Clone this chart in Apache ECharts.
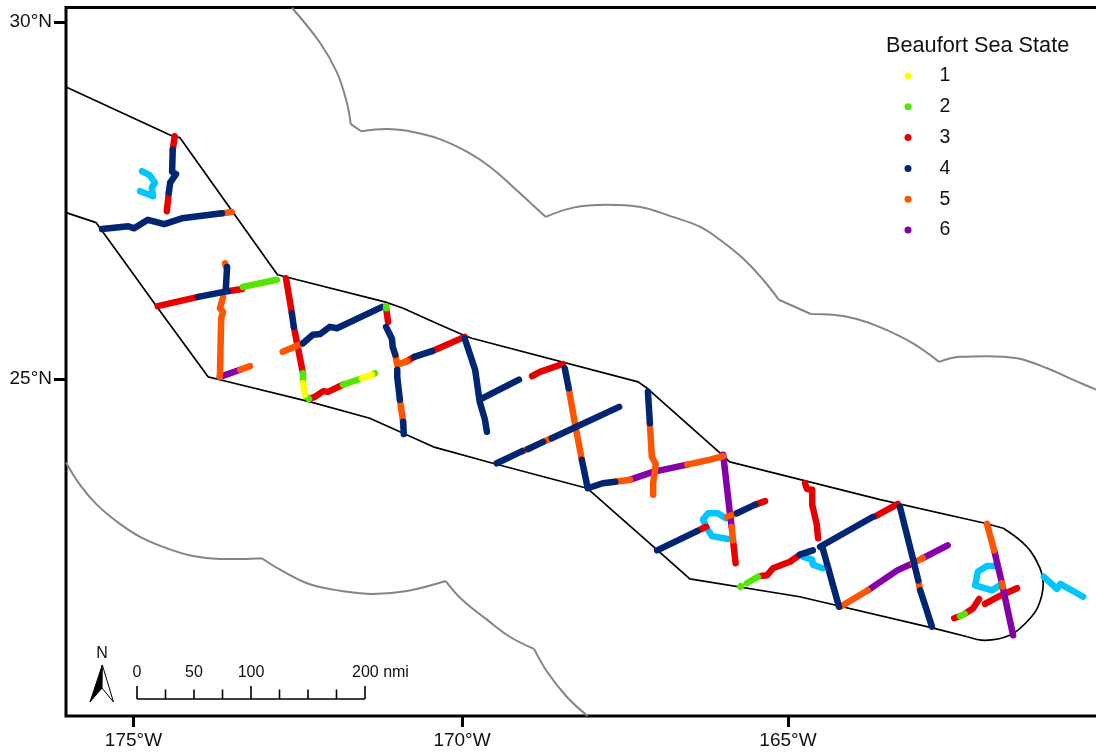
<!DOCTYPE html>
<html>
<head>
<meta charset="utf-8">
<style>html,body{margin:0;padding:0;background:#fff}#c{width:1096px;height:754px}</style>
<script src="https://cdn.jsdelivr.net/npm/echarts@6/dist/echarts.min.js"></script>
</head>
<body>
<div id="c"></div>
<script>
const lonTicks = [-175, -169.98, -165];
const latTicks = [25, 30];
const legendStates = ['1', '2', '3', '4', '5', '6'];

const studyEdges = [
  [[-176.03,29.09],[-174.40,28.40],[-174.29,28.38],[-172.80,26.46],[-171.16,26.08],[-170.88,25.99],[-170.32,25.76],[-169.97,25.62],[-169.83,25.57],[-167.29,24.96],[-167.15,24.87],[-166.01,23.94],[-165.89,23.84],[-163.59,23.31],[-161.99,22.98],[-161.71,22.91]],
  [[-162.26,21.39],[-162.78,21.51],[-164.82,21.95],[-166.50,22.20],[-167.03,22.63],[-168.07,23.47],[-169.51,23.82],[-170.42,24.05],[-170.93,24.26],[-171.39,24.45],[-172.30,24.68],[-173.68,24.99],[-173.86,25.03],[-174.64,26.01],[-175.16,26.67],[-175.57,27.19],[-176.03,27.33]]
];
const studyCap = [[[-161.71,22.91],[-161.35,22.65],[-161.15,22.35],[-161.10,22.14],[-161.18,21.81],[-161.35,21.60],[-161.61,21.41],[-161.99,21.34],[-162.26,21.39]]];
const outerArcs = [
  [[-172.58,30.20],[-172.15,29.71],[-171.89,29.29],[-171.74,28.87],[-171.68,28.57]],
  [[-171.68,28.57],[-171.52,28.47]],
  [[-171.52,28.47],[-171.13,28.50],[-170.73,28.46],[-170.32,28.36],[-169.90,28.18],[-169.55,27.97],[-169.20,27.69],[-168.94,27.47],[-168.70,27.27]],
  [[-168.70,27.27],[-168.28,27.40],[-167.77,27.44],[-167.26,27.41],[-166.76,27.27],[-166.34,27.13],[-166.04,26.95],[-165.69,26.69],[-165.38,26.39],[-165.14,26.11]],
  [[-165.14,26.11],[-164.65,25.91]],
  [[-164.65,25.91],[-164.31,25.90],[-163.95,25.84],[-163.55,25.71],[-163.09,25.50],[-162.69,25.24]],
  [[-162.69,25.24],[-162.37,25.31],[-161.96,25.32],[-161.50,25.29],[-161.04,25.15],[-160.65,24.99],[-160.29,24.85],[-160.14,24.78]],
  [[-176.03,23.83],[-175.82,23.52],[-175.56,23.24],[-175.25,23.00],[-174.90,22.79],[-174.49,22.63],[-174.09,22.52],[-173.68,22.48],[-173.33,22.48],[-173.04,22.49]],
  [[-173.04,22.49],[-172.76,22.33],[-172.35,22.14],[-171.95,22.05],[-171.54,22.00],[-171.34,21.99],[-170.82,22.03],[-170.23,22.17]],
  [[-170.23,22.17],[-169.97,21.90],[-169.60,21.63],[-169.25,21.39],[-168.88,21.22]],
  [[-168.88,21.22],[-168.68,20.90],[-168.38,20.55],[-168.06,20.28]]
];

const transit = [
  [[-174.87,27.91],[-174.76,27.86],[-174.67,27.75],[-174.72,27.68],[-174.70,27.56],[-174.90,27.63]],
  [[-165.95,23.05],[-166.07,23.12],[-166.22,23.12],[-166.30,23.03],[-166.24,22.91],[-166.16,22.80],[-165.92,22.76]],
  [[-164.77,22.51],[-164.63,22.47],[-164.62,22.40],[-164.47,22.35]],
  [[-161.84,22.38],[-161.96,22.38],[-162.10,22.30],[-162.14,22.11],[-161.88,22.04],[-161.76,22.11]],
  [[-161.09,22.23],[-160.89,22.06],[-160.84,22.13],[-160.49,21.95]]
];
const state1 = [
  [[-172.41,24.94],[-172.38,24.78]],
  [[-171.51,25.01],[-171.36,25.06]]
];
const state2 = [
  [[-173.33,26.29],[-172.81,26.39]],
  [[-172.41,25.08],[-172.41,24.94]],
  [[-172.35,24.75],[-172.32,24.72]],
  [[-171.80,24.92],[-171.51,25.01]],
  [[-171.36,25.06],[-171.31,25.08]],
  [[-171.14,26.02],[-171.14,25.99]],
  [[-165.73,22.09],[-165.72,22.10]],
  [[-165.63,22.14],[-165.46,22.23]],
  [[-162.37,21.68],[-162.30,21.71]]
];
const state3 = [
  [[-174.37,28.40],[-174.40,28.21]],
  [[-174.46,27.61],[-174.49,27.35]],
  [[-174.63,26.02],[-174.01,26.15]],
  [[-173.56,26.23],[-173.34,26.26]],
  [[-172.67,26.41],[-172.58,25.92]],
  [[-172.55,25.73],[-172.41,25.08]],
  [[-172.32,24.72],[-172.23,24.75],[-172.10,24.83],[-172.03,24.82],[-171.80,24.92]],
  [[-171.14,25.99],[-171.11,25.80]],
  [[-170.82,25.25],[-170.71,25.31]],
  [[-170.44,25.39],[-169.94,25.59]],
  [[-168.91,25.04],[-168.79,25.10],[-168.44,25.21]],
  [[-165.84,22.74],[-165.80,22.42]],
  [[-166.39,22.87],[-166.25,22.93]],
  [[-165.50,23.24],[-165.35,23.29]],
  [[-164.74,23.54],[-164.71,23.46],[-164.63,23.45],[-164.63,23.24],[-164.56,22.96],[-164.54,22.77]],
  [[-163.66,23.08],[-163.32,23.25]],
  [[-165.41,22.24],[-165.32,22.25],[-165.23,22.35],[-164.97,22.44],[-164.86,22.51]],
  [[-161.99,21.85],[-161.79,21.95],[-161.50,22.07]],
  [[-162.46,21.65],[-162.37,21.68]],
  [[-162.30,21.71],[-162.17,21.79],[-162.08,21.92]]
];
const state4 = [
  [[-174.40,28.21],[-174.41,27.90],[-174.35,27.87],[-174.44,27.75],[-174.46,27.61]],
  [[-175.48,27.10],[-175.08,27.14],[-174.99,27.11],[-174.78,27.23],[-174.53,27.17],[-174.26,27.25],[-173.65,27.32]],
  [[-174.01,26.15],[-173.56,26.23]],
  [[-173.57,26.57],[-173.59,26.25]],
  [[-172.58,25.92],[-172.55,25.73]],
  [[-172.41,25.50],[-172.26,25.62],[-172.15,25.63],[-172.00,25.73],[-171.89,25.71],[-171.20,26.01]],
  [[-171.14,25.73],[-171.05,25.56],[-171.04,25.45],[-171.00,25.34]],
  [[-170.97,25.13],[-170.97,25.03],[-170.93,24.71]],
  [[-170.88,24.40],[-170.87,24.23]],
  [[-170.71,25.31],[-170.44,25.39]],
  [[-169.94,25.57],[-169.78,25.13],[-169.71,24.68],[-169.63,24.43],[-169.60,24.26]],
  [[-169.71,24.71],[-169.11,24.99]],
  [[-168.41,25.15],[-168.35,24.87]],
  [[-168.15,23.87],[-168.06,23.47]],
  [[-169.45,23.82],[-169.06,23.99]],
  [[-168.97,24.02],[-168.74,24.12]],
  [[-168.61,24.17],[-167.58,24.61]],
  [[-168.06,23.47],[-167.83,23.54],[-167.64,23.56]],
  [[-167.14,24.82],[-167.11,24.38]],
  [[-167.00,22.60],[-166.39,22.87]],
  [[-165.78,23.12],[-165.50,23.24]],
  [[-164.51,22.65],[-163.70,23.07]],
  [[-164.47,22.63],[-164.22,21.81]],
  [[-164.82,22.54],[-164.62,22.60]],
  [[-163.29,23.21],[-163.06,22.37],[-163.01,22.18]],
  [[-162.98,22.04],[-162.88,21.76],[-162.80,21.53]]
];
const state5 = [
  [[-173.65,27.32],[-173.50,27.34]],
  [[-173.60,26.62],[-173.59,26.58]],
  [[-173.63,26.15],[-173.68,25.99],[-173.63,25.94],[-173.66,25.85],[-173.68,25.03]],
  [[-173.37,25.13],[-173.22,25.18]],
  [[-172.72,25.38],[-172.41,25.50]],
  [[-171.00,25.34],[-170.97,25.20]],
  [[-170.93,24.71],[-170.88,24.40]],
  [[-170.97,25.20],[-170.82,25.25]],
  [[-168.35,24.87],[-168.26,24.40],[-168.15,23.87]],
  [[-169.06,23.99],[-168.97,24.02]],
  [[-168.74,24.12],[-168.61,24.17]],
  [[-167.64,23.56],[-167.41,23.59]],
  [[-166.54,23.80],[-166.19,23.87],[-165.99,23.92]],
  [[-167.11,24.38],[-167.08,23.91],[-167.02,23.81],[-167.06,23.54],[-167.06,23.38]],
  [[-165.86,22.93],[-165.84,22.74]],
  [[-165.93,23.07],[-165.78,23.12]],
  [[-164.18,21.82],[-163.78,22.04]],
  [[-163.09,22.42],[-162.94,22.49]],
  [[-163.01,22.18],[-162.98,22.04]],
  [[-161.96,22.97],[-161.85,22.60]],
  [[-161.73,22.14],[-161.72,22.09]]
];
const state6 = [
  [[-173.68,25.03],[-173.37,25.13]],
  [[-167.41,23.59],[-167.06,23.70],[-166.54,23.80]],
  [[-165.99,23.94],[-165.89,23.14],[-165.86,22.93]],
  [[-163.78,22.04],[-163.33,22.32],[-163.09,22.42]],
  [[-162.94,22.49],[-162.56,22.67]],
  [[-161.85,22.60],[-161.73,22.14]],
  [[-161.72,22.09],[-161.56,21.41]]
];

function flat(lines) {
  const out = [];
  lines.forEach((l, i) => { if (i) out.push([null, null]); l.forEach(p => out.push(p)); });
  return out;
}
function track(name, lines, color) {
  return {
    name: name, type: 'line', data: flat(lines), showSymbol: false, symbol: 'circle', symbolSize: 7,
    silent: true, connectNulls: false, animation: false,
    itemStyle: { color: color },
    lineStyle: { color: color, width: 6.5, cap: 'round', join: 'round' }
  };
}
function plain(lines, color, width, smooth) {
  return {
    type: 'line', data: flat(lines), showSymbol: false, silent: true, animation: false,
    connectNulls: false, smooth: smooth,
    lineStyle: { color: color, width: width, join: 'round' }
  };
}

const font = '"Liberation Sans", Arial, sans-serif';
const chart = echarts.init(document.getElementById('c'));
const scaleTicks = [0, 1, 2, 3, 4, 5, 6, 7, 8];
chart.setOption({
  animation: false,
  backgroundColor: '#fff',
  title: {
    text: 'Beaufort Sea State', left: 881, top: 30,
    textStyle: { fontFamily: font, fontSize: 21.7, fontWeight: 'normal', color: '#111' }
  },
  legend: {
    data: legendStates.map(s => ({ name: s, icon: 'circle' })),
    orient: 'vertical', left: 899.5, top: 61, itemWidth: 7, itemHeight: 7, itemGap: 10.8,
    selectedMode: false,
    textStyle: { fontFamily: font, fontSize: 19.5, color: '#111', lineHeight: 20, padding: [0, 0, 0, 23] }
  },
  grid: {
    show: true, left: 66, top: 7.5, width: 1040, height: 708.5, outerBoundsMode: 'none',
    borderColor: '#000', borderWidth: 3, backgroundColor: 'transparent'
  },
  xAxis: {
    type: 'value', min: -176.031, max: -160.141, splitLine: { show: false },
    axisLine: { show: false },
    axisTick: { show: true, length: 11, lineStyle: { color: '#000', width: 3 }, customValues: lonTicks },
    axisLabel: {
      customValues: lonTicks, margin: 15, fontFamily: font, fontSize: 19, color: '#111',
      formatter: v => Math.abs(Math.round(v)) + '°W'
    }
  },
  yAxis: {
    type: 'value', min: 20.28, max: 30.203, splitLine: { show: false },
    axisLine: { show: false },
    axisTick: { show: true, length: 12, lineStyle: { color: '#000', width: 3 }, customValues: latTicks },
    axisLabel: {
      customValues: latTicks, margin: 14, fontFamily: font, fontSize: 19, color: '#111',
      formatter: v => Math.round(v) + '°N'
    }
  },
  series: [
    plain(outerArcs, '#858585', 2, 0.4),
    plain(studyEdges, '#000', 1.7, false),
    plain(studyCap, '#000', 1.7, 0.4),
    track('transit', transit, '#00c5ff'),
    track('3', state3, '#e60000'),
    track('6', state6, '#8400a8'),
    track('5', state5, '#ff5500'),
    track('4', state4, '#002673'),
    track('2', state2, '#55e600'),
    track('1', state1, '#ffff00')
  ],
  graphic: [
    { type: 'polyline', shape: { points: [[137, 699], [365, 699]] }, style: { stroke: '#000', lineWidth: 1.6, fill: null } }
  ].concat(scaleTicks.map(i => ({
    type: 'line',
    shape: { x1: 137 + i * 28.5, y1: i % 4 === 0 ? 686 : 689.5, x2: 137 + i * 28.5, y2: 699 },
    style: { stroke: '#000', lineWidth: 1.6 }
  }))).concat([
    { type: 'text', x: 137, y: 673, style: { text: '0', fontFamily: font, fontSize: 16, fill: '#111', align: 'center', verticalAlign: 'middle' } },
    { type: 'text', x: 194, y: 673, style: { text: '50', fontFamily: font, fontSize: 16, fill: '#111', align: 'center', verticalAlign: 'middle' } },
    { type: 'text', x: 251, y: 673, style: { text: '100', fontFamily: font, fontSize: 16, fill: '#111', align: 'center', verticalAlign: 'middle' } },
    { type: 'text', x: 352, y: 673, style: { text: '200 nmi', fontFamily: font, fontSize: 16, fill: '#111', align: 'left', verticalAlign: 'middle' } },
    { type: 'text', x: 102, y: 654, style: { text: 'N', fontFamily: font, fontSize: 16, fill: '#111', align: 'center', verticalAlign: 'middle' } },
    { type: 'polygon', shape: { points: [[102.3, 665], [90, 702], [102, 688]] }, style: { fill: '#000', stroke: '#000', lineWidth: 1 } },
    { type: 'polygon', shape: { points: [[102.3, 665], [113.5, 702], [102, 688]] }, style: { fill: '#fff', stroke: '#000', lineWidth: 1 } }
  ])
});
</script>
</body>
</html>
